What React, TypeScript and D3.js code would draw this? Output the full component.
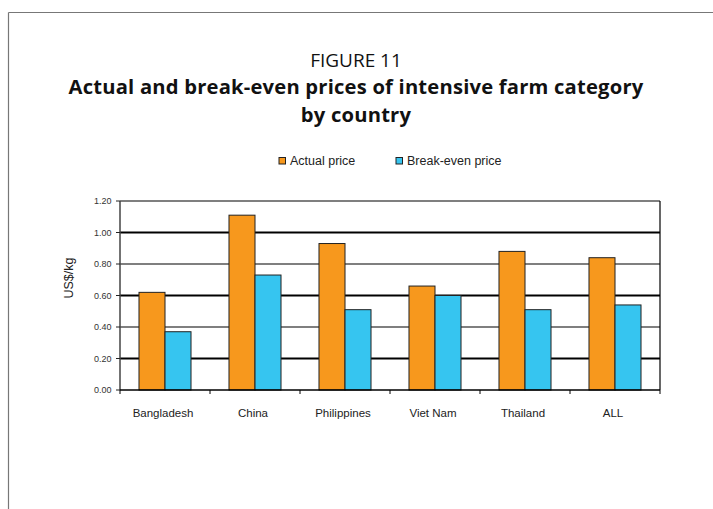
import React from "react";
import * as d3 from "d3";

const categories = ["Bangladesh", "China", "Philippines", "Viet Nam", "Thailand", "ALL"];
const seriesNames = ["Actual price", "Break-even price"];
const actualPrice = [0.62, 1.11, 0.93, 0.66, 0.88, 0.84];
const breakEvenPrice = [0.37, 0.73, 0.51, 0.60, 0.51, 0.54];
const yTicks = [0, 0.2, 0.4, 0.6, 0.8, 1.0, 1.2];
const colors = ["#F7981D", "#36C5F0"];

const W = 713;
const H = 509;
const M = { left: 120, right: 660, top: 201, bottom: 390 };

export default function App() {
  const x = d3.scaleBand<string>().domain(categories).range([M.left, M.right]).paddingInner(0).paddingOuter(0);
  const xs = d3.scaleBand<string>().domain(seriesNames).range([0, x.bandwidth()]).paddingInner(0).paddingOuter(0.73);
  const y = d3.scaleLinear().domain([0, 1.2]).range([M.bottom, M.top]);
  const series = [actualPrice, breakEvenPrice];
  const font = "'Liberation Sans', Arial, sans-serif";
  const titleFont = "'Open Sans', 'Noto Sans', sans-serif";

  return (
    <svg width={W} height={H} style={{ position: "absolute", left: 0, top: 0 }}>
      <rect x={0} y={0} width={W} height={H} fill="#fff" />
      {/* frame */}
      <line x1={8.5} y1={12.5} x2={W} y2={12.5} stroke="#777" strokeWidth={1.2} />
      <line x1={8.5} y1={12.5} x2={8.5} y2={H} stroke="#777" strokeWidth={1.2} />

      {/* titles */}
      <text x={356} y={67} textAnchor="middle" fontFamily={titleFont} fontSize={19} fill="#111">FIGURE 11</text>
      <text x={356} y={94} textAnchor="middle" fontFamily={titleFont} fontSize={20.2} fontWeight="bold" letterSpacing={0.2} fill="#111">
        Actual and break-even prices of intensive farm category
      </text>
      <text x={356} y={122} textAnchor="middle" fontFamily={titleFont} fontSize={20.2} fontWeight="bold" letterSpacing={0.2} fill="#111">
        by country
      </text>

      {/* legend */}
      {seriesNames.map((s, i) => {
        const lx = i === 0 ? 279 : 396;
        return (
          <g key={s}>
            <rect x={lx} y={157.5} width={6.5} height={6.5} fill={colors[i]} stroke="#222" strokeWidth={1} />
            <text x={lx + 11} y={165} fontFamily={font} fontSize={12.5} fill="#222">{s}</text>
          </g>
        );
      })}

      {/* gridlines */}
      {yTicks.filter((t) => t > 0).map((t, i) => (
        <line key={t} x1={M.left} x2={M.right} y1={y(t)} y2={y(t)} stroke="#000" strokeWidth={i % 2 === 0 ? 1.8 : 1.2} />
      ))}
      {/* right border */}
      <line x1={M.right} x2={M.right} y1={M.top} y2={M.bottom} stroke="#000" strokeWidth={1.2} />

      {/* bars */}
      {categories.map((c, ci) => (
        <g key={c}>
          {series.map((vals, si) => (
            <rect
              key={si}
              x={(x(c) as number) + (xs(seriesNames[si]) as number)}
              y={y(vals[ci])}
              width={xs.bandwidth()}
              height={y(0) - y(vals[ci])}
              fill={colors[si]}
              stroke="#222"
              strokeWidth={1}
            />
          ))}
        </g>
      ))}

      {/* y axis */}
      <line x1={M.left} x2={M.left} y1={M.top} y2={M.bottom} stroke="#444" strokeWidth={1.5} />
      {yTicks.map((t) => (
        <g key={t}>
          <line x1={M.left - 4} x2={M.left} y1={y(t)} y2={y(t)} stroke="#222" strokeWidth={1} />
          <text x={111.5} y={y(t) + 3.2} textAnchor="end" fontFamily={font} fontSize={9} fill="#333">
            {d3.format(".2f")(t)}
          </text>
        </g>
      ))}
      <text
        transform={`translate(72.5,278) rotate(-90)`}
        textAnchor="middle"
        fontFamily={font}
        fontSize={12.5}
        fill="#222"
      >
        US$/kg
      </text>

      {/* x axis */}
      <line x1={M.left} x2={M.right} y1={M.bottom} y2={M.bottom} stroke="#000" strokeWidth={1.5} />
      {[...categories.map((c) => x(c) as number), M.right].map((px, i) => (
        <line key={i} x1={px} x2={px} y1={M.bottom} y2={M.bottom + 4} stroke="#000" strokeWidth={1} />
      ))}
      {categories.map((c) => (
        <text
          key={c}
          x={(x(c) as number) + x.bandwidth() / 2 - 2}
          y={417}
          textAnchor="middle"
          fontFamily={font}
          fontSize={11.5}
          fill="#222"
        >
          {c}
        </text>
      ))}
    </svg>
  );
}
